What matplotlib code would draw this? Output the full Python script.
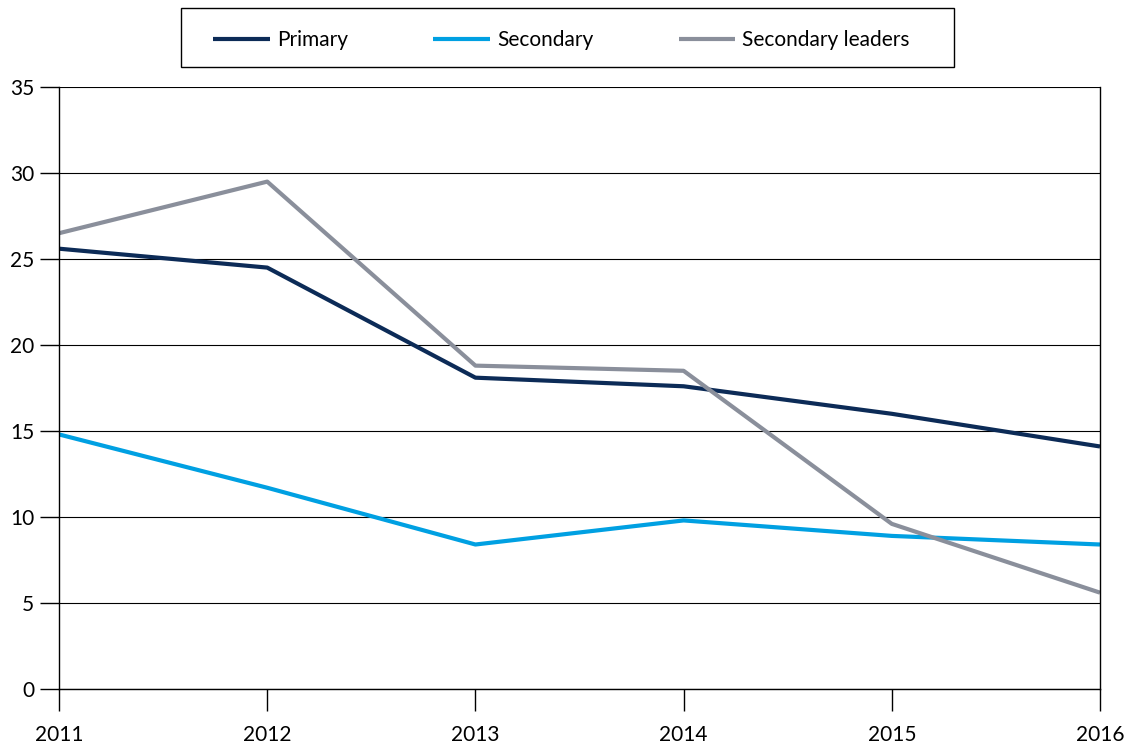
import matplotlib.pyplot as plt
from matplotlib.patches import Rectangle

plt.rcParams['font.family'] = ['Lato', 'DejaVu Sans']

years = [2011, 2012, 2013, 2014, 2015, 2016]
primary = [25.6, 24.5, 18.1, 17.6, 16.0, 14.1]
secondary = [14.8, 11.7, 8.4, 9.8, 8.9, 8.4]
secondary_leaders = [26.5, 29.5, 18.8, 18.5, 9.6, 5.6]

fig = plt.figure(figsize=(11.29, 7.45), dpi=100)
ax = fig.add_axes([0.0523, 0.0752, 0.922, 0.808])

ax.plot(years, primary, color="#0c2b57", lw=3, label="Primary", solid_capstyle="butt")
ax.plot(years, secondary, color="#00a0e2", lw=3, label="Secondary", solid_capstyle="butt")
ax.plot(years, secondary_leaders, color="#8a8f9b", lw=3, label="Secondary leaders", solid_capstyle="butt")

ax.set_xlim(2011, 2016)
ax.set_ylim(0, 35)
ax.set_yticks(range(0, 36, 5))
ax.set_xticks(years)
ax.yaxis.grid(True, color="black", lw=0.8)
ax.set_axisbelow(True)
ax.spines["top"].set_visible(False)
for s in ["left", "right", "bottom"]:
    ax.spines[s].set_linewidth(1.0)
ax.tick_params(axis="y", length=14, width=1, pad=4, labelsize=15)
ax.tick_params(axis="x", length=16, width=1, pad=10, labelsize=15)

# legend box drawn separately so it can be wider than its contents
fig.patches.append(Rectangle((0.1603, 0.9101), 0.6847, 0.0792, transform=fig.transFigure,
                             fill=False, edgecolor="black", lw=1.0))
fig.legend(loc="center", bbox_to_anchor=(0.4973, 0.9463),
           ncol=3, frameon=False, fontsize=15, handlelength=2.7,
           handletextpad=0.35, columnspacing=4.1, borderaxespad=0, borderpad=0)

fig.savefig("out.png", dpi=100)
